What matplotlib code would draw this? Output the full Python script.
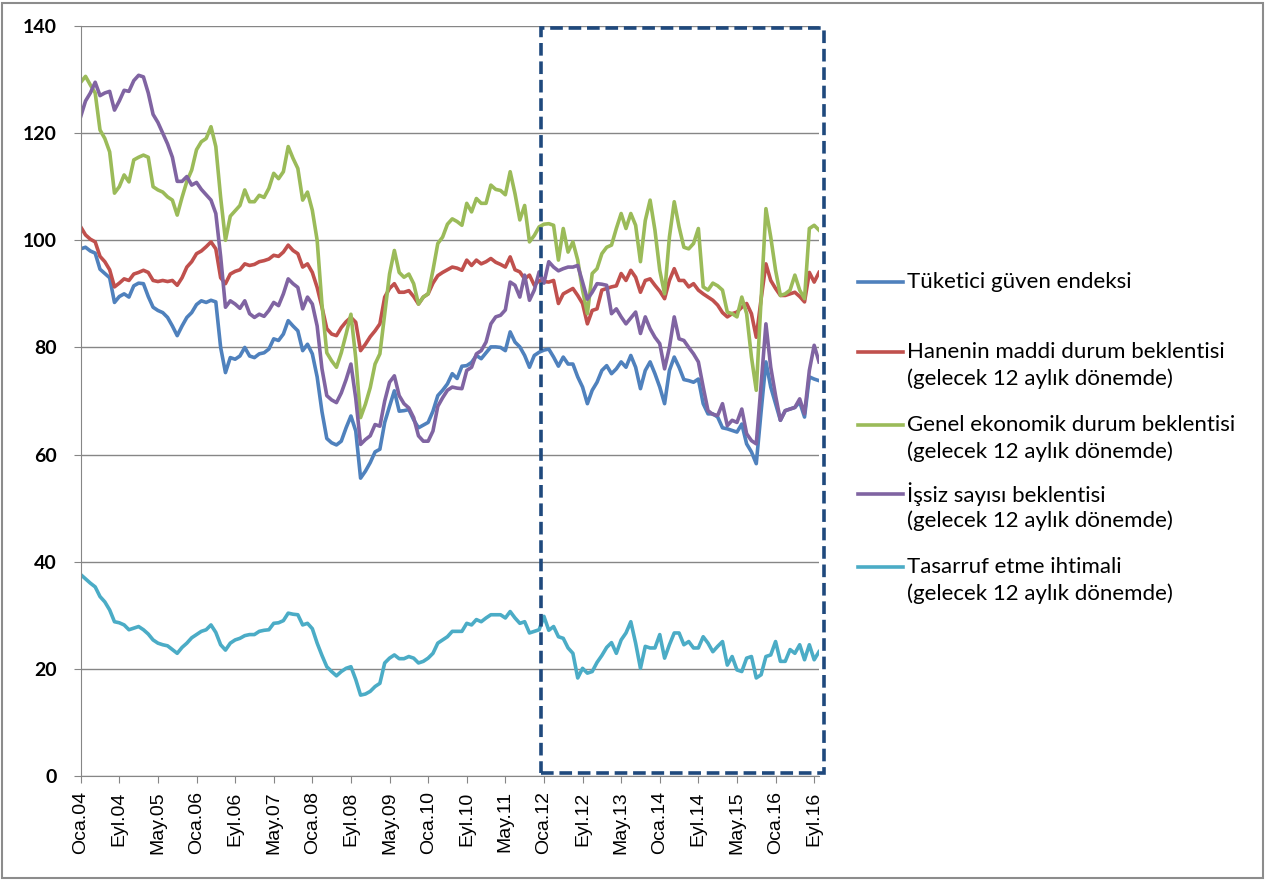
import numpy as np
import matplotlib.pyplot as plt
from matplotlib.lines import Line2D
from matplotlib.patches import Rectangle

# Aylik seriler, Ocak 2004 - Ekim 2016
tuketici = [98.4, 98.7, 98.0, 97.6, 94.6, 93.8, 93.0, 88.4, 89.5, 90.0,
            89.4, 91.5, 92.0, 91.9, 89.5, 87.5, 86.9, 86.5, 85.6, 84.0,
            82.2, 84.0, 85.6, 86.5, 88.0, 88.7, 88.4, 88.8, 88.5, 80.0,
            75.3, 78.1, 77.8, 78.4, 80.0, 78.4, 78.1, 78.8, 79.0, 79.7,
            81.6, 81.3, 82.5, 85.0, 84.0, 83.1, 79.4, 80.6, 78.8, 74.5,
            68.0, 63.0, 62.2, 61.8, 62.5, 65.0, 67.2, 64.4, 55.6, 56.9,
            58.5, 60.5, 61.0, 66.0, 69.0, 71.9, 68.1, 68.2, 68.4, 66.5,
            65.0, 65.5, 66.0, 68.1, 71.0, 72.0, 73.2, 75.1, 74.2, 76.5,
            76.6, 77.2, 78.5, 77.9, 79.0, 80.1, 80.1, 80.0, 79.4, 82.9,
            81.0, 80.1, 78.5, 76.3, 78.5, 79.1, 79.5, 79.7, 78.2, 76.5,
            78.2, 76.9, 76.9, 74.5, 72.6, 69.5, 72.0, 73.5, 75.7, 76.6,
            75.1, 76.0, 77.3, 76.3, 78.5, 76.3, 72.3, 75.7, 77.3, 75.1,
            72.6, 69.5, 75.7, 78.2, 76.3, 74.0, 73.8, 73.5, 74.1, 69.5,
            67.6, 67.6, 67.0, 65.0, 64.8, 64.5, 64.2, 65.7, 62.0, 60.5,
            58.3, 68.0, 77.3, 72.6, 69.5, 66.4, 68.2, 68.5, 68.8, 69.8,
            67.0, 74.5, 74.1, 73.8]

hanenin = [102.5, 101.0, 100.2, 99.7, 97.0, 96.0, 94.5, 91.3, 92.0, 92.8,
           92.5, 93.7, 94.0, 94.4, 94.0, 92.5, 92.3, 92.5, 92.3, 92.5,
           91.6, 93.0, 95.0, 96.0, 97.5, 98.0, 98.8, 99.7, 98.4, 93.0,
           91.9, 93.7, 94.2, 94.5, 95.6, 95.3, 95.5, 96.0, 96.2, 96.5,
           97.2, 97.0, 97.8, 99.1, 98.1, 97.5, 95.0, 95.6, 94.0, 91.2,
           87.5, 83.5, 82.5, 82.2, 83.7, 84.8, 85.6, 84.7, 79.4, 80.6,
           82.0, 83.1, 84.4, 89.4, 91.0, 91.9, 90.3, 90.3, 90.6, 89.5,
           88.1, 89.4, 90.0, 92.0, 93.4, 94.0, 94.5, 95.0, 94.8, 94.4,
           96.3, 95.3, 96.3, 95.6, 96.0, 96.6, 95.9, 95.5, 95.0, 96.9,
           94.5, 94.1, 92.8, 93.5, 91.6, 92.5, 92.3, 92.2, 92.5, 88.2,
           90.0, 90.5, 91.0, 89.7, 88.2, 84.4, 86.9, 87.2, 90.7, 91.0,
           91.3, 91.5, 93.8, 92.5, 94.4, 93.1, 90.3, 92.5, 92.8, 91.6,
           90.5, 89.1, 92.5, 94.7, 92.5, 92.5, 91.3, 91.9, 90.7, 90.0,
           89.4, 88.8, 87.9, 86.5, 85.7, 86.3, 86.6, 87.5, 88.2, 86.3,
           81.9, 89.0, 95.6, 92.5, 91.0, 89.7, 89.7, 90.0, 90.3, 89.5,
           88.5, 94.0, 92.2, 94.0]

genel = [129.5, 130.6, 129.0, 127.5, 120.6, 119.0, 116.5, 108.8, 110.0, 112.2,
         110.9, 115.0, 115.5, 115.9, 115.5, 110.0, 109.4, 109.0, 108.1, 107.5,
         104.7, 108.0, 111.0, 113.1, 116.9, 118.4, 119.0, 121.2, 117.5, 108.0,
         100.0, 104.5, 105.5, 106.5, 109.4, 107.2, 107.2, 108.4, 108.0, 109.7,
         112.5, 111.5, 112.8, 117.5, 115.3, 113.4, 107.5, 109.0, 105.6, 100.0,
         88.0, 79.0, 77.5, 76.3, 79.0, 82.5, 86.2, 78.0, 66.9, 69.4,
         72.5, 76.9, 78.8, 86.2, 93.7, 98.1, 94.0, 93.1, 93.7, 91.9,
         88.1, 89.4, 90.0, 94.4, 99.4, 100.6, 103.0, 104.0, 103.5, 102.8,
         106.9, 105.3, 107.8, 106.9, 106.9, 110.3, 109.5, 109.3, 108.5, 112.8,
         108.7, 103.8, 106.5, 99.7, 100.9, 102.5, 103.0, 103.1, 102.8, 96.3,
         102.2, 97.8, 99.7, 96.3, 90.7, 86.3, 93.8, 94.7, 97.5, 98.7,
         99.1, 102.2, 105.0, 102.2, 105.0, 102.8, 96.0, 103.7, 107.5, 101.9,
         94.4, 90.0, 100.6, 107.2, 102.5, 98.7, 98.4, 99.4, 102.2, 91.3,
         90.7, 92.0, 91.5, 90.7, 86.6, 86.3, 85.7, 89.4, 86.3, 78.2,
         72.0, 89.0, 105.9, 100.6, 94.4, 89.7, 90.0, 90.7, 93.5, 90.7,
         89.1, 102.2, 102.8, 101.9]

issiz = [123.1, 126.0, 127.5, 129.5, 127.0, 127.5, 127.8, 124.3, 126.0, 128.0,
         127.8, 129.8, 130.8, 130.5, 127.5, 123.5, 122.0, 120.0, 118.0, 115.5,
         111.0, 111.0, 111.9, 110.3, 110.8, 109.5, 108.5, 107.5, 105.0, 97.0,
         87.5, 88.7, 88.1, 87.3, 88.7, 86.3, 85.6, 86.2, 85.8, 86.9,
         88.4, 87.8, 90.0, 92.8, 91.9, 91.2, 87.2, 89.4, 88.1, 84.0,
         76.0, 71.0, 70.2, 69.7, 71.5, 74.0, 76.9, 70.5, 61.9, 62.8,
         63.5, 65.6, 65.3, 70.0, 73.5, 74.7, 71.0, 69.5, 68.7, 66.9,
         63.5, 62.5, 62.5, 64.4, 69.0, 70.6, 72.0, 72.6, 72.4, 72.3,
         75.7, 76.3, 78.8, 79.4, 81.0, 84.4, 85.7, 86.0, 87.0, 92.2,
         91.6, 89.4, 93.5, 88.8, 90.7, 94.1, 92.0, 96.0, 95.0, 94.3,
         94.7, 95.0, 95.0, 95.3, 92.2, 89.0, 90.3, 91.9, 91.8, 91.6,
         86.3, 87.2, 85.7, 84.4, 85.5, 86.6, 82.6, 85.7, 83.5, 81.9,
         80.7, 76.0, 80.0, 85.7, 81.6, 81.3, 80.0, 78.8, 77.3, 72.6,
         68.2, 67.5, 67.3, 69.5, 65.4, 66.4, 66.0, 68.5, 63.9, 62.6,
         62.0, 73.0, 84.4, 76.3, 71.0, 66.4, 68.2, 68.5, 68.8, 70.4,
         67.6, 75.7, 80.4, 77.3]

tasarruf = [37.6, 36.8, 36.0, 35.3, 33.5, 32.5, 31.0, 28.8, 28.6, 28.2,
            27.3, 27.6, 27.9, 27.3, 26.5, 25.4, 24.8, 24.5, 24.3, 23.6,
            22.9, 24.0, 24.8, 25.8, 26.4, 27.0, 27.3, 28.2, 26.8, 24.5,
            23.5, 24.8, 25.4, 25.7, 26.2, 26.4, 26.4, 27.0, 27.2, 27.3,
            28.5, 28.6, 29.0, 30.4, 30.2, 30.1, 28.2, 28.5, 27.5, 24.8,
            22.5, 20.4, 19.5, 18.7, 19.5, 20.1, 20.4, 18.0, 15.1, 15.3,
            15.8, 16.7, 17.3, 21.1, 22.0, 22.6, 21.9, 21.9, 22.3, 22.0,
            21.1, 21.4, 22.0, 22.9, 24.8, 25.4, 26.0, 27.0, 27.0, 27.0,
            28.5, 28.2, 29.2, 28.8, 29.5, 30.1, 30.1, 30.1, 29.5, 30.7,
            29.5, 28.5, 28.8, 26.7, 27.0, 27.3, 29.8, 27.2, 27.9, 26.0,
            25.7, 23.9, 22.9, 18.3, 20.1, 19.2, 19.5, 21.2, 22.5, 24.0,
            24.9, 22.9, 25.4, 26.7, 28.8, 24.8, 20.1, 24.2, 23.9, 23.9,
            26.4, 22.0, 24.5, 26.7, 26.7, 24.5, 25.1, 23.9, 23.9, 26.0,
            24.8, 23.2, 24.2, 25.1, 20.7, 22.3, 19.8, 19.5, 22.0, 22.3,
            18.3, 18.9, 22.3, 22.6, 25.1, 21.4, 21.4, 23.6, 22.9, 24.5,
            21.7, 24.5, 21.7, 23.2]

tick_labels = ['Oca.04', 'Eyl.04', 'May.05', 'Oca.06', 'Eyl.06', 'May.07',
               'Oca.08', 'Eyl.08', 'May.09', 'Oca.10', 'Eyl.10', 'May.11',
               'Oca.12', 'Eyl.12', 'May.13', 'Oca.14', 'Eyl.14', 'May.15',
               'Oca.16', 'Eyl.16']

names = ['Tüketici güven endeksi',
         'Hanenin maddi durum beklentisi\n(gelecek 12 aylık dönemde)',
         'Genel ekonomik durum beklentisi\n(gelecek 12 aylık dönemde)',
         'İşsiz sayısı beklentisi\n(gelecek 12 aylık dönemde)',
         'Tasarruf etme ihtimali\n(gelecek 12 aylık dönemde)']
colors = ['#4F81BD', '#C0504D', '#9BBB59', '#8064A2', '#4BACC6']
series = [tuketici, hanenin, genel, issiz, tasarruf]

W, H = 1266, 881
fig = plt.figure(figsize=(W / 100, H / 100), dpi=100)
ax = fig.add_axes([80.7 / W, 1 - 776 / H, (819 - 80.7) / W, 750 / H])

months = np.arange(len(tuketici))
for vals, c in zip(series, colors):
    ax.plot(months, vals, color=c, lw=2.6, solid_joinstyle='round')

grid_col = '#868686'
ax.set_xlim(0, len(tuketici) - 1)
ax.set_ylim(0, 140)
ax.set_yticks(range(0, 141, 20))
ax.yaxis.grid(True, color=grid_col, lw=1)
ax.set_axisbelow(True)
ax.set_xticks(np.arange(len(tick_labels)) * 8)
ax.set_xticklabels(tick_labels, rotation=90, fontsize=14,
                   family='Liberation Sans')
for lab in ax.get_yticklabels():
    lab.set_family('Lato')
    lab.set_fontweight('bold')
    lab.set_fontsize(14)
ax.tick_params(axis='y', length=5, color=grid_col, pad=12)
ax.tick_params(axis='x', length=5, color=grid_col, pad=6)
for s in ['top', 'right']:
    ax.spines[s].set_visible(False)
for s in ['left', 'bottom']:
    ax.spines[s].set_color(grid_col)

# 2012 sonrasi donemi kesikli cerceve
box = Rectangle((95.4, 0.5), 154.0 - 95.4, 139.1, fill=False,
                edgecolor='#1F497D', lw=2.6, linestyle=(0, (3.5, 1.6)),
                clip_on=False, zorder=5)
ax.add_patch(box)

# lejant
leg_y = [282, 352, 425, 494, 567]
for name, c, y in zip(names, colors, leg_y):
    fig.add_artist(Line2D([858 / W, 903 / W], [1 - y / H, 1 - y / H],
                          color=c, lw=2.6, transform=fig.transFigure))
    for k, line in enumerate(name.split('\n')):
        fig.text(907 / W, 1 - (y + 27 * k) / H, line, fontsize=16,
                 family='Lato', va='center', ha='left')

fig.add_artist(Rectangle((2 / W, 3 / H), 1 - 5 / W, 1 - 6 / H, fill=False,
                         edgecolor='#8C8C8C', lw=1.5,
                         transform=fig.transFigure))

fig.savefig('out.png', dpi=100)
